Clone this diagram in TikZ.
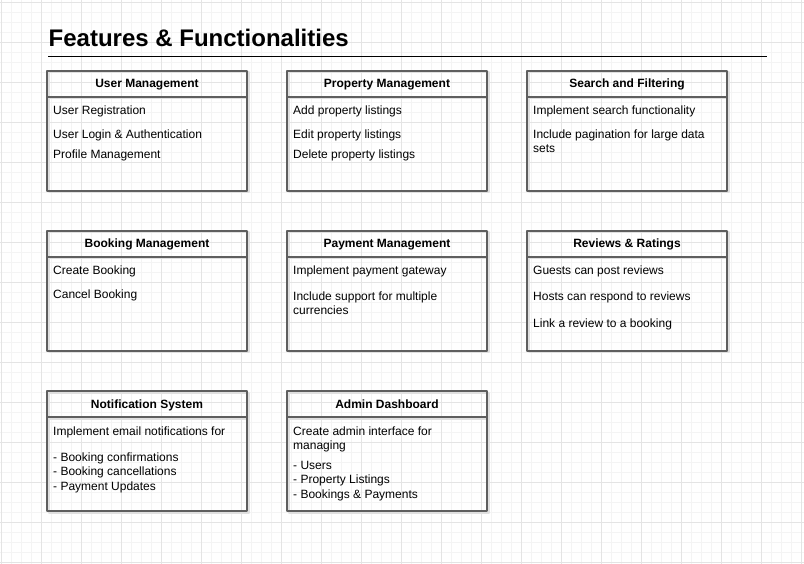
\documentclass[tikz,border=0pt]{standalone}
\usepackage{fontspec}
\setmainfont{Liberation Sans}
\usetikzlibrary{positioning}
\definecolor{boxgray}{HTML}{5F5F5F}
\definecolor{gridminor}{HTML}{F4F4F4}
\definecolor{gridmajor}{HTML}{E4E4E4}
\tikzset{
  cardhead/.style={draw=boxgray,line width=1.3pt,minimum width=200pt,minimum height=26pt,inner sep=0pt,outer sep=0pt,
    text height=10pt,text depth=2pt,font=\bfseries\fontsize{12}{14}\selectfont,
    preaction={draw=black!12,line width=2pt,transform canvas={xshift=1.5pt,yshift=-1.5pt}}},
  cardbody/.style={draw=boxgray,line width=1.3pt,minimum width=200pt,minimum height=94pt,inner sep=0pt,outer sep=0pt,
    preaction={draw=black!12,line width=2pt,transform canvas={xshift=1.5pt,yshift=-1.5pt}}},
  item/.style={anchor=base west,inner sep=0pt,yshift=-1pt,font=\fontsize{12}{14}\selectfont}
}
\begin{document}
\begin{tikzpicture}[line cap=round,line join=round,x=1pt,y=-1pt]
\useasboundingbox (0,0) rectangle (804,564);
% grid
\foreach \gx in {1,11,...,801} \draw[gridminor,line width=0.7pt] (\gx,0) -- (\gx,564);
\foreach \gy in {2,12,...,562} \draw[gridminor,line width=0.7pt] (0,\gy) -- (804,\gy);
\foreach \gx in {1,41,...,801} \draw[gridmajor,line width=0.7pt] (\gx,0) -- (\gx,564);
\foreach \gy in {2,42,...,562} \draw[gridmajor,line width=0.7pt] (0,\gy) -- (804,\gy);
% title
\node[anchor=base west,inner sep=0pt,font=\bfseries\fontsize{24}{28}\selectfont] (title) at (48.5,47) {Features \& Functionalities};
\coordinate (rulel) at (48,57);
\coordinate (ruler) at (767,57);
\draw[line width=1pt,line cap=butt] (rulel) -- (ruler);
% row 1
\node[cardhead] (userhead) at (147,84) {User Management};
\node[cardbody,below=0pt of userhead] (userbody) {};
\node[item] (user1) at (53,114) {User Registration};
\node[item] (user2) at (53,138) {User Login \& Authentication};
\node[item] (user3) at (53,158) {Profile Management};

\node[cardhead] (prophead) at (387,84) {Property Management};
\node[cardbody,below=0pt of prophead] (propbody) {};
\node[item] (prop1) at (293,114) {Add property listings};
\node[item] (prop2) at (293,138) {Edit property listings};
\node[item] (prop3) at (293,158) {Delete property listings};

\node[cardhead] (searchhead) at (627,84) {Search and Filtering};
\node[cardbody,below=0pt of searchhead] (searchbody) {};
\node[item] (search1) at (533,114) {Implement search functionality};
\node[item] (search2) at (533,138) {Include pagination for large data};
\node[item] (search3) at (533,152) {sets};
% row 2
\node[cardhead] (bookhead) at (147,244) {Booking Management};
\node[cardbody,below=0pt of bookhead] (bookbody) {};
\node[item] (book1) at (53,274) {Create Booking};
\node[item] (book2) at (53,298) {Cancel Booking};

\node[cardhead] (payhead) at (387,244) {Payment Management};
\node[cardbody,below=0pt of payhead] (paybody) {};
\node[item] (pay1) at (293,274) {Implement payment gateway};
\node[item] (pay2) at (293,300) {Include support for multiple};
\node[item] (pay3) at (293,314) {currencies};

\node[cardhead] (revhead) at (627,244) {Reviews \& Ratings};
\node[cardbody,below=0pt of revhead] (revbody) {};
\node[item] (rev1) at (533,274) {Guests can post reviews};
\node[item] (rev2) at (533,300) {Hosts can respond to reviews};
\node[item] (rev3) at (533,326) {Link a review to a booking};
% row 3
\node[cardhead] (notifhead) at (147,404) {Notification System};
\node[cardbody,below=0pt of notifhead] (notifbody) {};
\node[item] (notif1) at (53,434) {Implement email notifications for};
\node[item] (notif2) at (53,460) {- Booking confirmations};
\node[item] (notif3) at (53,474.5) {- Booking cancellations};
\node[item] (notif4) at (53,489) {- Payment Updates};

\node[cardhead] (adminhead) at (387,404) {Admin Dashboard};
\node[cardbody,below=0pt of adminhead] (adminbody) {};
\node[item] (admin1) at (293,434) {Create admin interface for};
\node[item] (admin2) at (293,448) {managing};
\node[item] (admin3) at (293,468) {- Users};
\node[item] (admin4) at (293,482) {- Property Listings};
\node[item] (admin5) at (293,497) {- Bookings \& Payments};
\end{tikzpicture}
\end{document}
